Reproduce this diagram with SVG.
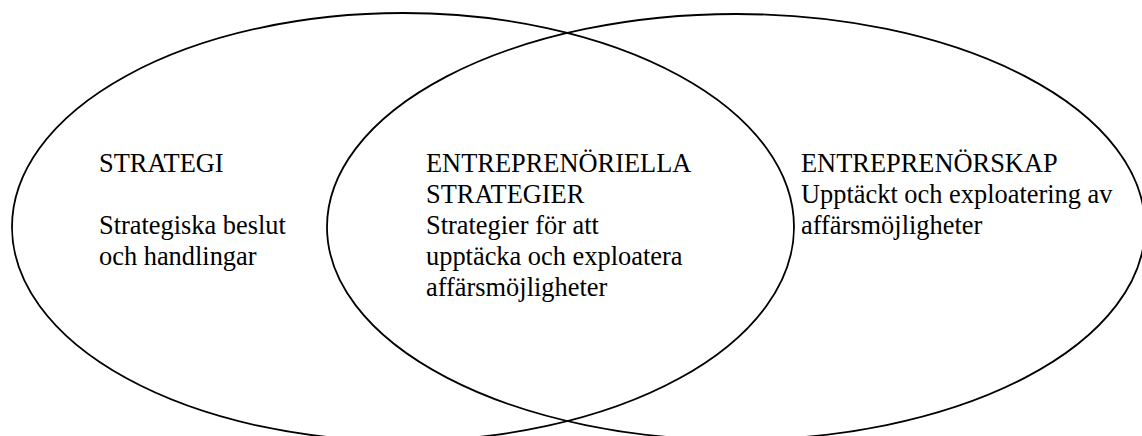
<svg xmlns="http://www.w3.org/2000/svg" width="1142" height="436" viewBox="0 0 1142 436">
  <style>
    .ring { fill: none; stroke: #000; stroke-width: 1.8; }
    .lbl { font-family: "Liberation Serif", "Times New Roman", serif; font-size: 26.4px; fill: #000; }
  </style>
  <rect x="0" y="0" width="1142" height="436" fill="#fff"/>

  <!-- Left set: strategy -->
  <g id="strategi">
    <ellipse class="ring" cx="403" cy="227" rx="391" ry="214"/>
    <text class="lbl" x="99" y="172">STRATEGI</text>
    <text class="lbl" x="99" y="234">Strategiska beslut</text>
    <text class="lbl" x="99" y="265">och handlingar</text>
  </g>

  <!-- Right set: entrepreneurship -->
  <g id="entreprenorskap">
    <ellipse class="ring" cx="736" cy="227" rx="409" ry="213"/>
    <text class="lbl" x="801" y="172">ENTREPRENÖRSKAP</text>
    <text class="lbl" x="801" y="203">Upptäckt och exploatering av</text>
    <text class="lbl" x="801" y="234">affärsmöjligheter</text>
  </g>

  <!-- Overlap: entrepreneurial strategies -->
  <g id="entreprenoriella-strategier">
    <text class="lbl" x="426" y="172">ENTREPRENÖRIELLA</text>
    <text class="lbl" x="426" y="203">STRATEGIER</text>
    <text class="lbl" x="426" y="234">Strategier för att</text>
    <text class="lbl" x="426" y="265">upptäcka och exploatera</text>
    <text class="lbl" x="426" y="296">affärsmöjligheter</text>
  </g>

  <g id="connectors"/>
</svg>
